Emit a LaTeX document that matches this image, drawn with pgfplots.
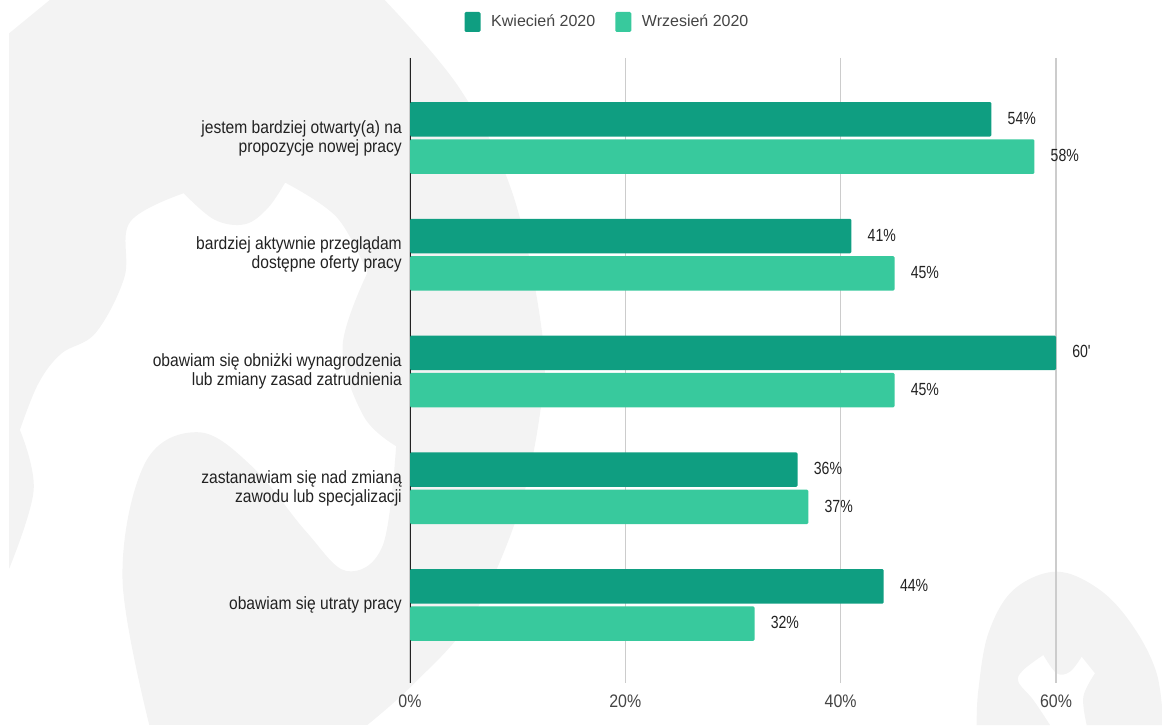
\documentclass[border=0pt]{standalone}
\usepackage{fontspec}
\setmainfont{Liberation Sans}
\newfontfamily\narrowfont[FakeStretch=0.88]{Liberation Sans}
\newfontfamily\tightfont[FakeStretch=0.8]{Liberation Sans}
\usepackage{pgfplots}
\pgfplotsset{compat=1.18}

\definecolor{darkbar}{HTML}{0F9E81}
\definecolor{lightbar}{HTML}{38C99D}
\definecolor{blob}{HTML}{F3F3F3}
\definecolor{gridc}{HTML}{CCCCCC}
\definecolor{txt}{HTML}{222222}
\definecolor{txtsoft}{HTML}{444444}

\begin{document}
\begin{tikzpicture}
    \path[use as bounding box] (0,0) rectangle (871.5pt,543.75pt);
    % background shapes, zoom coordinates
    \begin{scope}
        \clip (0,0) rectangle (871.5pt,543.75pt);
        \begin{scope}[shift={(0,543.75pt)},x=0.28703pt,y=-0.34674pt]
            \fill[blob] (24,72) -- (130,0) -- (1005,0)
                -- plot[smooth,tension=0.6] coordinates {(1005,0) (1200,190) (1340,420) (1418,730) (1410,900) (1350,1120) (1230,1340) (1080,1480) (960,1568)}
                -- (390,1568)
                -- plot[smooth,tension=0.6] coordinates {(390,1568) (320,1250) (380,1000) (520,935) (660,1010) (800,1150) (905,1235) (1000,1180) (1035,965)}
                -- plot[smooth,tension=0.6] coordinates {(1035,965) (950,900) (895,750) (960,590)}
                -- plot[smooth,tension=0.6] coordinates {(960,590) (880,470) (745,395)}
                -- plot[smooth,tension=0.6] coordinates {(745,395) (700,450) (640,485) (560,475) (480,418)}
                -- plot[smooth,tension=0.6] coordinates {(480,418) (340,480) (325,600) (250,720) (160,765) (100,830) (52,930)}
                -- plot[smooth,tension=0.6] coordinates {(52,930) (88,1060) (24,1230)}
                -- cycle;
        \end{scope}
        \begin{scope}[shift={(675pt,0)},x=0.25pt,y=-0.25pt,yshift=138.75pt]
            \fill[blob] (230,555)
                -- plot[smooth,tension=0.6] coordinates {(230,555) (235,450) (265,280) (340,150) (470,95) (600,150) (700,260) (770,400) (790,555)}
                -- (560,555)
                -- plot[smooth,tension=0.6] coordinates {(560,555) (550,470) (585,400)}
                -- (545,350)
                -- plot[smooth,tension=0.6] coordinates {(545,350) (510,395) (470,400) (430,345)}
                -- plot[smooth,tension=0.6] coordinates {(430,345) (370,390) (355,425) (400,480) (450,555)}
                -- cycle;
        \end{scope}
    \end{scope}
    \begin{axis}[
        at={(307.5pt,31.5pt)},
        anchor=south west,
        scale only axis,
        width=484.5pt,
        height=468.75pt,
        xbar,
        bar width=25.9pt,
        clip=false,
        xmin=0, xmax=60,
        ymin=-0.685, ymax=4.668,
        y dir=reverse,
        axis x line*=bottom,
        axis y line*=left,
        x axis line style={draw=none},
        y axis line style={draw=txt,line width=0.6pt,-},
        xmajorgrids,
        grid style={gridc,line width=0.8pt},
        major tick length=0pt,
        xtick={0,20,40,60},
        xticklabels={0\%,20\%,40\%,60\%},
        ytick={0,1,2,3,4},
        yticklabels={
            {jestem bardziej otwarty(a) na\\propozycje nowej pracy},
            {bardziej aktywnie przeglądam\\dostępne oferty pracy},
            {obawiam się obniżki wynagrodzenia\\lub zmiany zasad zatrudnienia},
            {zastanawiam się nad zmianą\\zawodu lub specjalizacji},
            {obawiam się utraty pracy}},
        yticklabel style={align=right,inner sep=0pt,xshift=-6pt,text=txt,
            font=\narrowfont\fontsize{13.3}{14.2}\selectfont},
        xticklabel style={text=txtsoft,inner sep=0pt,yshift=-8.5pt,
            font=\narrowfont\fontsize{13.6}{14}\selectfont},
        point meta=explicit symbolic,
        nodes near coords,
        every node near coord/.append style={anchor=west,inner sep=0pt,xshift=12pt,yshift=0.7pt,text=txt,
            font=\tightfont\fontsize{13.2}{14}\selectfont},
        legend columns=2,
        legend style={at={(0.3062,1.0576)},anchor=center,draw=none,fill=none,
            font=\fontsize{12}{14}\selectfont,text=txtsoft,inner sep=0pt,
            /tikz/every odd column/.append style={column sep=6pt},
            /tikz/every even column/.append style={column sep=13pt}},
        legend image code/.code={
            \fill[#1,draw=none,rounded corners=1pt] (0pt,-7.5pt) rectangle (12pt,7.5pt);},
        ]
        \addplot[fill=darkbar,draw=none,rounded corners=1pt,bar shift=14pt] coordinates {
            (54,0)[54\%]
            (41,1)[41\%]
            (60,2)[60']
            (36,3)[36\%]
            (44,4)[44\%]
        };
        \addplot[fill=lightbar,draw=none,rounded corners=1pt,bar shift=-14pt] coordinates {
            (58,0)[58\%]
            (45,1)[45\%]
            (45,2)[45\%]
            (37,3)[37\%]
            (32,4)[32\%]
        };
        \legend{Kwiecień 2020,Wrzesień 2020}
    \end{axis}
\end{tikzpicture}
\end{document}
